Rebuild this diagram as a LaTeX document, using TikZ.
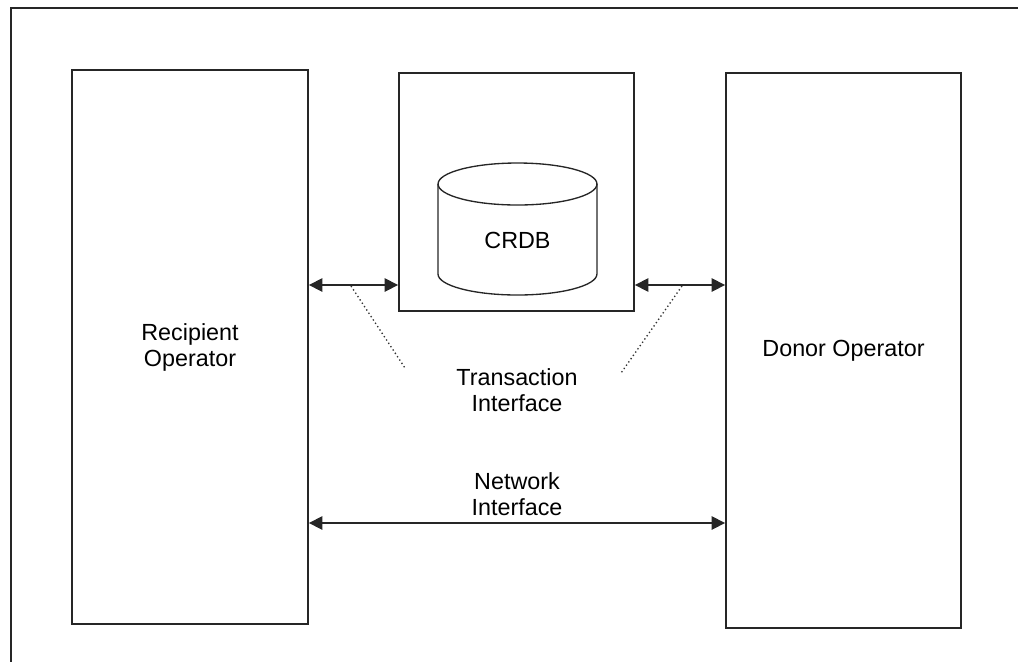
\documentclass[tikz,border=0pt]{standalone}
\usepackage{fontspec}
\setmainfont{Liberation Sans}
\usepackage{tikz}
\usetikzlibrary{calc,arrows.meta}

\tikzset{
  opbox/.style={draw=black!85,line width=1.4pt,inner sep=0pt,align=center},
  lbl/.style={align=center,inner sep=0pt},
  both/.style={{Triangle[length=10pt,width=10pt]}-{Triangle[length=10pt,width=10pt]},line width=1.2pt,black!85},
  hint/.style={dotted,line width=1pt,black!80}
}

\begin{document}
\begin{tikzpicture}[x=0.75pt,y=-0.75pt,font=\fontsize{17.5}{19.5}\selectfont]
                      \useasboundingbox (0,0) rectangle (1018,662);
                      \draw[line width=1.4pt,black!85] (1018,8) -- (11,8) -- (11,662);
                      \node[opbox,minimum width=177pt,minimum height=415.5pt] (recipient) at (190,347) {Recipient\\Operator};
                      \node[opbox,minimum width=176.25pt,minimum height=178.5pt] (crdbbox) at (516.5,192) {};
                      \node[opbox,minimum width=176.25pt,minimum height=416.25pt] (donor) at (843.5,350.5) {Donor Operator};
                      \draw[line width=1pt,black!85] (438,184) -- (438,274) arc[start angle=180,end angle=360,x radius=59.6pt,y radius=15.75pt] -- (597,184);
                      \draw[line width=1pt,black!85,fill=white] (517.5,184) ellipse [x radius=59.6pt,y radius=15.75pt];
                      \node[lbl] (crdb) at (517.5,240) {CRDB};
                      \draw[both] (recipient.east |- 0,285) coordinate (la) -- (crdbbox.west |- 0,285) coordinate (lb);
                      \draw[both] (crdbbox.east |- 0,285) coordinate (ra) -- (donor.west |- 0,285) coordinate (rb);
                      \draw[both] (recipient.east |- 0,523) -- (donor.west |- 0,523);
                      \node[lbl] (trans) at (517,390) {Transaction\\Interface};
                      \node[lbl] (net) at (517,494) {Network\\Interface};
                      \coordinate (lt) at (351,286);
                      \coordinate (rt) at (682,286);
                      \draw[hint] (lt) -- (405,368);
                      \draw[hint] (rt) -- (621,373);
                  \end{tikzpicture}
\end{document}
